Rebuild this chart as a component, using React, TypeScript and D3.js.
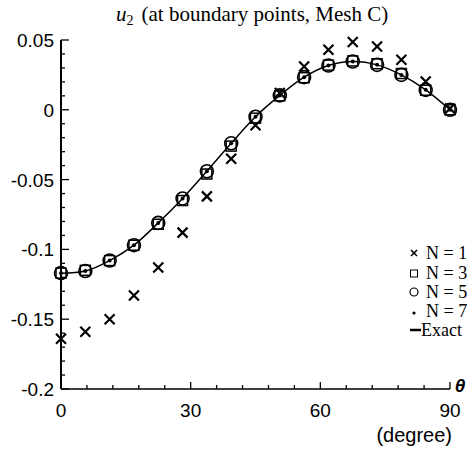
import * as d3 from "d3";

const WIDTH = 468;
const HEIGHT = 452;

// boundary angle (degrees)
const theta = [0, 5.625, 11.25, 16.875, 22.5, 28.125, 33.75, 39.375, 45, 50.625, 56.25, 61.875, 67.5, 73.125, 78.75, 84.375, 90];

const exact = [-0.117, -0.1155, -0.108, -0.097, -0.081, -0.0635, -0.044, -0.024, -0.005, 0.0103, 0.0234, 0.0317, 0.0346, 0.0322, 0.025, 0.0143, 0];
const n1 = [-0.164, -0.159, -0.15, -0.133, -0.113, -0.088, -0.062, -0.035, -0.011, 0.012, 0.031, 0.043, 0.0485, 0.0453, 0.0358, 0.0203, 0.001];
const n3 = [-0.117, -0.115, -0.108, -0.097, -0.082, -0.065, -0.046, -0.026, -0.006, 0.01, 0.023, 0.032, 0.035, 0.033, 0.026, 0.014, 0];
const n5 = [-0.117, -0.1155, -0.108, -0.097, -0.081, -0.0635, -0.044, -0.024, -0.005, 0.0103, 0.0234, 0.0317, 0.0346, 0.0322, 0.025, 0.0143, 0];
const n7 = [-0.117, -0.1155, -0.108, -0.097, -0.081, -0.0635, -0.044, -0.024, -0.005, 0.0103, 0.0234, 0.0317, 0.0346, 0.0322, 0.025, 0.0143, 0];

const xTickLabels = [0, 30, 60, 90];
const yTickLabels = [0.05, 0, -0.05, -0.1, -0.15, -0.2];
const legendLabels = ["N = 1", "N = 3", "N = 5", "N = 7", "Exact"];

const SANS = "'Liberation Sans', Arial, Helvetica, sans-serif";
const SERIF = "'Liberation Serif', 'Times New Roman', serif";

const Cross = ({ x, y, s = 5, w = 2.2 }: { x: number; y: number; s?: number; w?: number }) => (
  <path d={`M${x - s},${y - s}L${x + s},${y + s}M${x - s},${y + s}L${x + s},${y - s}`} stroke="#000" strokeWidth={w} />
);

export default function App() {
  const xScale = d3.scaleLinear().domain([0, 90]).range([61, 450]);
  const yScale = d3.scaleLinear().domain([-0.2, 0.05]).range([389, 40]);

  const xMinor = d3.range(0, 91, 6);
  const yMinor = d3.range(-20, 6).map((d) => d / 100);

  const line = d3
    .line<number>()
    .x((_, i) => xScale(theta[i]))
    .y((d) => yScale(d))
    .curve(d3.curveCatmullRom);

  const fmt = (v: number) => (v === 0 ? "0" : String(v));

  const legendY = [253, 273, 292, 311, 330];
  const legendX = 414;

  return (
    <svg width={WIDTH} height={HEIGHT} style={{ position: "absolute", left: 0, top: 0, background: "#fff" }}>
      {/* title */}
      <text x={116} y={21} fontFamily={SERIF} fontSize={21}>
        <tspan fontStyle="italic">u</tspan>
        <tspan fontSize={14} dy={4}>2</tspan>
        <tspan dy={-4} dx={8}>(at  boundary points, Mesh C)</tspan>
      </text>

      {/* axes */}
      <line x1={xScale(0)} x2={xScale(0)} y1={yScale(0.05)} y2={yScale(-0.2)} stroke="#000" strokeWidth={2} />
      <line x1={xScale(0)} x2={xScale(90)} y1={yScale(-0.2)} y2={yScale(-0.2)} stroke="#000" strokeWidth={1.6} />
      {yMinor.map((v) => {
        const major = Math.round(v * 100) % 5 === 0;
        return (
          <line key={"yt" + v} x1={xScale(0)} x2={xScale(0) + (major ? 8 : 4)} y1={yScale(v)} y2={yScale(v)} stroke="#000" strokeWidth={1.3} />
        );
      })}
      {xMinor.map((v) => {
        const major = v % 30 === 0;
        return (
          <line key={"xt" + v} x1={xScale(v)} x2={xScale(v)} y1={yScale(-0.2)} y2={yScale(-0.2) - (major ? 7 : 4)} stroke="#000" strokeWidth={1.3} />
        );
      })}
      {yTickLabels.map((v) => (
        <text key={"yl" + v} x={xScale(0) - 7} y={yScale(v) + 7} textAnchor="end" fontFamily={SANS} fontSize={19}>
          {fmt(v)}
        </text>
      ))}
      {xTickLabels.map((v) => (
        <text key={"xl" + v} x={xScale(v)} y={417} textAnchor="middle" fontFamily={SANS} fontSize={19}>
          {v}
        </text>
      ))}
      <text x={460} y={392} textAnchor="middle" fontFamily={SANS} fontSize={19} fontStyle="italic" fontWeight="bold">
        θ
      </text>
      <text x={452} y={442} textAnchor="end" fontFamily={SANS} fontSize={20}>
        (degree)
      </text>

      {/* exact line */}
      <path d={line(exact) ?? ""} fill="none" stroke="#000" strokeWidth={1.5} />

      {/* N = 1 */}
      {n1.map((v, i) => (
        <Cross key={"n1" + i} x={xScale(theta[i])} y={yScale(v)} />
      ))}
      {/* N = 3 */}
      {n3.map((v, i) => (
        <rect key={"n3" + i} x={xScale(theta[i]) - 5} y={yScale(v) - 5} width={10} height={10} fill="none" stroke="#000" strokeWidth={1.5} />
      ))}
      {/* N = 5 */}
      {n5.map((v, i) => (
        <circle key={"n5" + i} cx={xScale(theta[i])} cy={yScale(v)} r={6.5} fill="none" stroke="#000" strokeWidth={1.6} />
      ))}
      {/* N = 7 */}
      {n7.map((v, i) => (
        <circle key={"n7" + i} cx={xScale(theta[i])} cy={yScale(v)} r={2} fill="#000" />
      ))}

      {/* legend */}
      <Cross x={legendX} y={legendY[0]} s={3} w={1.6} />
      <rect x={legendX - 3.5} y={legendY[1] - 3} width={7} height={7} fill="none" stroke="#000" strokeWidth={1} />
      <circle cx={legendX} cy={legendY[2]} r={4} fill="none" stroke="#000" strokeWidth={1.2} />
      <circle cx={legendX} cy={legendY[3] + 2} r={1.6} fill="#000" />
      <line x1={legendX - 4} x2={legendX + 7} y1={legendY[4]} y2={legendY[4]} stroke="#000" strokeWidth={2.5} />
      {legendLabels.map((t, i) => (
        <text key={t} x={i === 4 ? legendX + 7 : legendX + 12} y={legendY[i] + 6} fontFamily={SERIF} fontSize={18}>
          {t}
        </text>
      ))}
    </svg>
  );
}
